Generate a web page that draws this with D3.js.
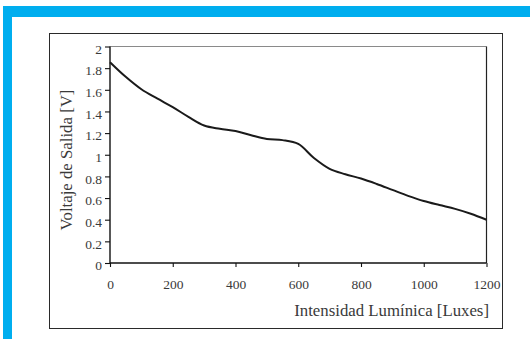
<!DOCTYPE html>
<html>
<head>
<meta charset="utf-8">
<script src="https://cdn.jsdelivr.net/npm/d3@7"></script>
<style>
  html, body { margin: 0; padding: 0; background: #fff; }
  svg { display: block; }
  text { font-family: "Liberation Serif", "Times New Roman", serif; fill: #3a3a3a; }
</style>
</head>
<body>
<svg id="chart" width="530" height="339"></svg>
<script>
// Illuminance (lux) and output voltage (V)
const luxValues = [0, 50, 100, 150, 200, 250, 300, 350, 400, 450, 500, 550, 600, 650, 700, 750, 800, 850, 900, 950, 1000, 1050, 1100, 1150, 1200];
const voltValues = [1.855, 1.72, 1.605, 1.52, 1.44, 1.35, 1.27, 1.24, 1.22, 1.18, 1.145, 1.135, 1.10, 0.97, 0.87, 0.82, 0.78, 0.73, 0.675, 0.62, 0.572, 0.535, 0.50, 0.455, 0.40];
const xTicks = [0, 200, 400, 600, 800, 1000, 1200];
const yTicks = [0, 0.2, 0.4, 0.6, 0.8, 1, 1.2, 1.4, 1.6, 1.8, 2];
const xTitle = "Intensidad Lumínica [Luxes]";
const yTitle = "Voltaje de Salida [V]";

const svg = d3.select("#chart");
const blue = "#00aeef";

// Frame bands
svg.append("rect").attr("x", 3).attr("y", 6).attr("width", 527).attr("height", 11).attr("fill", blue);
svg.append("rect").attr("x", 3).attr("y", 6).attr("width", 9).attr("height", 333).attr("fill", blue);

// Chart box
svg.append("rect")
  .attr("x", 49.5).attr("y", 33.5).attr("width", 453).attr("height", 295)
  .attr("fill", "#fff").attr("stroke", "#2a2a2a").attr("stroke-width", 1);

const plotL = 110, plotR = 486.5, plotT = 46.5, plotB = 263;
const x = d3.scaleLinear().domain([0, 1200]).range([plotL, plotR]);
const y = d3.scaleLinear().domain([0, 2]).range([plotB, plotT]);

// Plot area border (top gray, right dark)
svg.append("line").attr("x1", plotL).attr("x2", plotR).attr("y1", plotT).attr("y2", plotT)
  .attr("stroke", "#8a8a8a").attr("stroke-width", 1.2);
svg.append("line").attr("x1", plotR).attr("x2", plotR).attr("y1", plotT).attr("y2", plotB)
  .attr("stroke", "#222").attr("stroke-width", 1.2);

// Axes
const xAxis = d3.axisBottom(x).tickValues(xTicks).tickSize(4).tickPadding(13).tickFormat(d3.format("d"));
const yAxis = d3.axisLeft(y).tickValues(yTicks).tickSize(5).tickPadding(3).tickFormat(d => String(+d.toFixed(1)));

const gx = svg.append("g").attr("transform", `translate(0,${plotB})`).call(xAxis);
const gy = svg.append("g").attr("transform", `translate(${plotL},0)`).call(yAxis);

[gx, gy].forEach(g => {
  g.select(".domain").attr("stroke", "#111").attr("stroke-width", 1.4);
  g.selectAll(".tick line").attr("stroke", "#111").attr("stroke-width", 1.1);
  g.selectAll(".tick text")
    .attr("font-family", "Liberation Serif, serif")
    .attr("font-size", 13.5).attr("fill", "#3a3a3a");
});
gx.select(".domain").attr("d", `M${plotL},0H${plotR}`);
gy.select(".domain").attr("d", `M0,${plotB}V${plotT}`);
gy.selectAll(".tick text").attr("dy", "0.5em");
gx.selectAll(".tick text").attr("dy", "0.68em");

// Curve
const pts = luxValues.map((v, i) => [v, voltValues[i]]);
const line = d3.line().x(d => x(d[0])).y(d => y(d[1])).curve(d3.curveCatmullRom.alpha(0.5));
svg.append("path").datum(pts).attr("d", line)
  .attr("fill", "none").attr("stroke", "#1a1a1a").attr("stroke-width", 2);

// Axis titles
svg.append("text").attr("x", 489).attr("y", 316).attr("text-anchor", "end")
  .attr("font-size", 16.8).text(xTitle);
svg.append("text").attr("transform", "translate(72,160) rotate(-90)").attr("text-anchor", "middle")
  .attr("font-size", 16.8).text(yTitle);
</script>
</body>
</html>
